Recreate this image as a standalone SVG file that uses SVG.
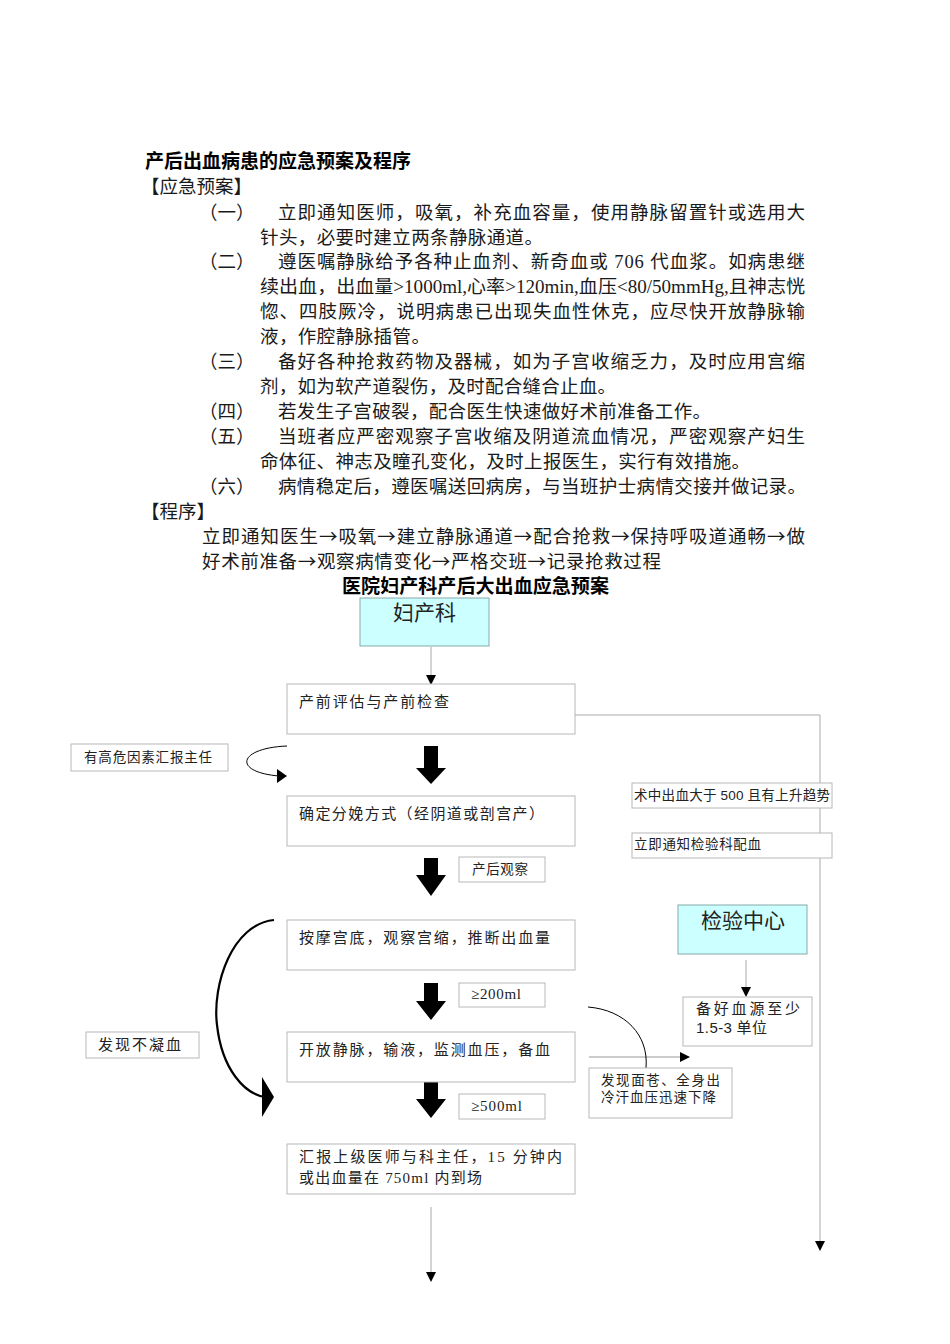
<svg xmlns="http://www.w3.org/2000/svg" width="950" height="1344" viewBox="0 0 950 1344">
<style>
.t{font-family:"Liberation Serif","Noto Sans CJK SC",serif;font-size:18.5px;fill:#1a1a1a}
.b{font-weight:bold;font-size:19px;fill:#000}
.ar{font-family:"Noto Sans CJK SC",sans-serif}
.sa{font-family:"Liberation Sans","Noto Sans CJK SC",sans-serif}
.box{fill:#fff;stroke:#b8b8b8;stroke-width:1}
.cy{fill:#ccffff;stroke:#8aa;stroke-width:1}
.bt{font-family:"Liberation Serif","Noto Sans CJK SC",serif;font-size:15px;fill:#222}
.st{font-family:"Liberation Serif","Noto Sans CJK SC",serif;font-size:13.5px;fill:#222}
.big{font-family:"Liberation Sans","Noto Sans CJK SC",sans-serif;font-size:21px;fill:#222}
.ln{fill:none;stroke:#aaa;stroke-width:1}
.fat{fill:#000}
</style>
<defs>
<marker id="ah" markerWidth="10" markerHeight="10" refX="9" refY="5" orient="auto" markerUnits="userSpaceOnUse"><path d="M0,0 L10,5 L0,10 Z" fill="#000"/></marker>
</defs>

<g id="text-block">
<text class="t b" x="145" y="168" textLength="266" lengthAdjust="spacingAndGlyphs">产后出血病患的应急预案及程序</text>
<text class="t" x="141" y="193">【应急预案】</text>
<text class="t" x="199" y="219">（一）</text>
<text class="t" x="278" y="219" textLength="527" lengthAdjust="spacing">立即通知医师，吸氧，补充血容量，使用静脉留置针或选用大</text>
<text class="t" x="260" y="244" textLength="283" lengthAdjust="spacing">针头，必要时建立两条静脉通道。</text>
<text class="t" x="199" y="268">（二）</text>
<text class="t" x="278" y="268" textLength="527" lengthAdjust="spacing">遵医嘱静脉给予各种止血剂、新奇血或 706 代血浆。如病患继</text>
<text class="t" x="260" y="293" textLength="545" lengthAdjust="spacingAndGlyphs">续出血，出血量&gt;1000ml,心率&gt;120min,血压&lt;80/50mmHg,且神志恍</text>
<text class="t" x="260" y="318" textLength="545" lengthAdjust="spacing">惚、四肢厥冷，说明病患已出现失血性休克，应尽快开放静脉输</text>
<text class="t" x="260" y="343" textLength="170" lengthAdjust="spacing">液，作腔静脉插管。</text>
<text class="t" x="199" y="368">（三）</text>
<text class="t" x="278" y="368" textLength="527" lengthAdjust="spacing">备好各种抢救药物及器械，如为子宫收缩乏力，及时应用宫缩</text>
<text class="t" x="260" y="393" textLength="356" lengthAdjust="spacing">剂，如为软产道裂伤，及时配合缝合止血。</text>
<text class="t" x="199" y="418">（四）</text>
<text class="t" x="278" y="418" textLength="433" lengthAdjust="spacing">若发生子宫破裂，配合医生快速做好术前准备工作。</text>
<text class="t" x="199" y="443">（五）</text>
<text class="t" x="278" y="443" textLength="527" lengthAdjust="spacing">当班者应严密观察子宫收缩及阴道流血情况，严密观察产妇生</text>
<text class="t" x="260" y="468" textLength="490" lengthAdjust="spacing">命体征、神志及瞳孔变化，及时上报医生，实行有效措施。</text>
<text class="t" x="199" y="493">（六）</text>
<text class="t" x="278" y="493" textLength="528" lengthAdjust="spacing">病情稳定后，遵医嘱送回病房，与当班护士病情交接并做记录。</text>
<text class="t" x="141" y="518">【程序】</text>
<text class="t" x="202" y="543" textLength="603" lengthAdjust="spacing">立即通知医生<tspan class="ar">→</tspan>吸氧<tspan class="ar">→</tspan>建立静脉通道<tspan class="ar">→</tspan>配合抢救<tspan class="ar">→</tspan>保持呼吸道通畅<tspan class="ar">→</tspan>做</text>
<text class="t" x="202" y="568" textLength="459" lengthAdjust="spacing">好术前准备<tspan class="ar">→</tspan>观察病情变化<tspan class="ar">→</tspan>严格交班<tspan class="ar">→</tspan>记录抢救过程</text>
<text class="t b" x="342" y="593" textLength="267" lengthAdjust="spacingAndGlyphs">医院妇产科产后大出血应急预案</text>
</g>

<g id="connectors">
<line class="ln" x1="431" y1="647" x2="431" y2="684" marker-end="url(#ah)"/>
<polyline class="ln" points="545,715 820,715 820,1250" marker-end="url(#ah)"/>
<path d="M287,746 C238,748 232,772 279,776" fill="none" stroke="#000" stroke-width="1"/>
<path d="M277,769 L287,776 L277,783 Z" fill="#000"/>
<path class="fat" d="M424,746 H438 V768 H446 L431,784 L416,768 H424 Z"/>
<path class="fat" d="M424,858 H438 V875 H446 L431,896 L416,875 H424 Z"/>
<path class="fat" d="M424,983 H438 V1001 H446 L431,1020 L416,1001 H424 Z"/>
<path class="fat" d="M424,1082 H438 V1099 H446 L431,1118 L416,1099 H424 Z"/>
<line class="ln" x1="746" y1="960" x2="746" y2="996" marker-end="url(#ah)"/>
<path d="M274,920 C232,924 212,985 217,1025 C222,1070 245,1094 265,1097" fill="none" stroke="#000" stroke-width="2.2"/>
<path d="M262,1077 L274,1097 L262,1117 Z" fill="#000"/>
<line x1="589" y1="1057" x2="689" y2="1057" stroke="#999" stroke-width="1" marker-end="url(#ah)"/>
<path d="M588,1007 C625,1010 649,1035 646,1068" fill="none" stroke="#000" stroke-width="1"/>
<line class="ln" x1="431" y1="1207" x2="431" y2="1281" marker-end="url(#ah)"/>
</g>

<g id="n-fuchanke"><rect class="cy" x="360" y="598" width="129" height="48"/><text class="big" x="424.5" y="620" text-anchor="middle">妇产科</text></g>
<g id="n-chanqian"><rect class="box" x="287" y="684" width="288" height="50"/><text class="bt" x="299" y="707" textLength="150" lengthAdjust="spacing">产前评估与产前检查</text></g>
<g id="n-gaowei"><rect class="box" x="71" y="744" width="157" height="27"/><text class="st" x="84" y="762" textLength="128" lengthAdjust="spacing">有高危因素汇报主任</text></g>
<g id="n-fenmian"><rect class="box" x="287" y="796" width="288" height="50"/><text class="bt" x="299" y="819" textLength="245" lengthAdjust="spacing">确定分娩方式（经阴道或剖宫产）</text></g>
<g id="n-shuzhong"><rect class="box" x="632" y="783" width="200" height="25"/><text class="st" x="634" y="800" textLength="196" lengthAdjust="spacing">术中出血大于 <tspan class="sa">500</tspan> 且有上升趋势</text></g>
<g id="n-peixue"><rect class="box" x="632" y="833" width="200" height="25"/><text class="st" x="634" y="849" textLength="127" lengthAdjust="spacing">立即通知检验科配血</text></g>
<g id="n-chanhou"><rect class="box" x="459" y="857" width="86" height="25"/><text class="st" x="472" y="874" textLength="56" lengthAdjust="spacing">产后观察</text></g>
<g id="n-anmo"><rect class="box" x="287" y="920" width="288" height="50"/><text class="bt" x="299" y="943" textLength="251" lengthAdjust="spacing">按摩宫底，观察宫缩，推断出血量</text></g>
<g id="n-jianyan"><rect class="cy" x="678" y="905" width="129" height="49"/><text class="big" x="743" y="928" text-anchor="middle">检验中心</text></g>
<g id="n-xueyuan"><rect class="box" x="683" y="997" width="129" height="49"/><text class="bt" x="696" y="1014" textLength="104" lengthAdjust="spacing">备好血源至少</text><text class="bt" x="696" y="1033" textLength="71" lengthAdjust="spacing"><tspan class="sa">1.5-3</tspan> 单位</text></g>
<g id="n-200"><rect class="box" x="459" y="983" width="86" height="24"/><text class="bt" x="471" y="999" textLength="50" lengthAdjust="spacing">≥200ml</text></g>
<g id="n-kaifang"><rect class="box" x="287" y="1032" width="288" height="50"/><text class="bt" x="299" y="1055" textLength="251" lengthAdjust="spacing">开放静脉，输液，监测血压，备血</text></g>
<g id="n-buningxue"><rect class="box" x="86" y="1032" width="113" height="26"/><text class="bt" x="98" y="1050" textLength="83" lengthAdjust="spacing">发现不凝血</text></g>
<g id="n-miancang"><rect class="box" x="589" y="1068" width="143" height="50"/><text class="st" x="601" y="1085" textLength="119" lengthAdjust="spacing">发现面苍、全身出</text><text class="st" x="601" y="1102" textLength="115" lengthAdjust="spacing">冷汗血压迅速下降</text></g>
<g id="n-500"><rect class="box" x="459" y="1094" width="86" height="25"/><text class="bt" x="471" y="1111" textLength="51" lengthAdjust="spacing">≥500ml</text></g>
<g id="n-huibao"><rect class="box" x="287" y="1144" width="288" height="50"/><text class="bt" x="299" y="1162" textLength="263" lengthAdjust="spacing">汇报上级医师与科主任，15 分钟内</text><text class="bt" x="299" y="1183" textLength="183" lengthAdjust="spacing">或出血量在 750ml 内到场</text></g>
</svg>
